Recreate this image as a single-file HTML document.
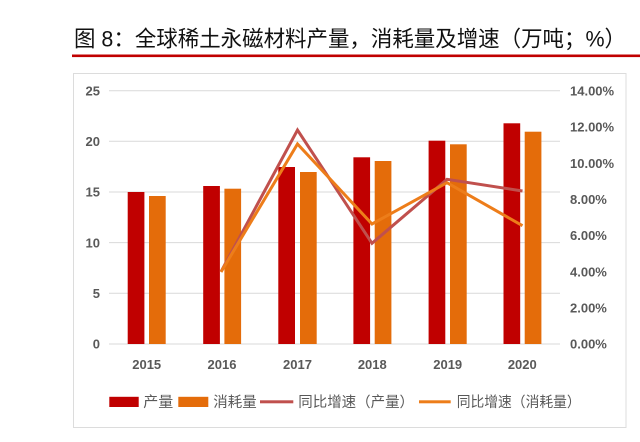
<!DOCTYPE html>
<html>
<head>
<meta charset="utf-8">
<style>
  html,body{margin:0;padding:0;background:#fff;}
  svg{display:block;}
  .ax{font-family:"Liberation Sans","Noto Sans CJK SC",sans-serif;font-weight:bold;font-size:13px;fill:#595959;}
  .lg{font-family:"Liberation Sans","Noto Sans CJK SC",sans-serif;font-size:14.5px;fill:#595959;}
  .tt{font-family:"Liberation Sans","Noto Sans CJK SC",sans-serif;font-size:22px;fill:#111;}
</style>
</head>
<body>
<svg width="640" height="442" viewBox="0 0 640 442" xmlns="http://www.w3.org/2000/svg">
  <rect width="640" height="442" fill="#fff"/>
  <!-- Title -->
  <text class="tt" x="74" y="46.5" textLength="552" lengthAdjust="spacingAndGlyphs">图 8：全球稀土永磁材料产量，消耗量及增速（万吨；%）</text>
  <rect x="72" y="54.5" width="568" height="2.6" fill="#c00000"/>

  <!-- Chart box -->
  <rect x="73.5" y="73.5" width="552.5" height="354" fill="#fff" stroke="#dcdcdc" stroke-width="1"/>

  <!-- Gridlines -->
  <g stroke="#d9d9d9" stroke-width="1">
    <line x1="109" y1="90.7" x2="560" y2="90.7"/>
    <line x1="109" y1="141.3" x2="560" y2="141.3"/>
    <line x1="109" y1="192" x2="560" y2="192"/>
    <line x1="109" y1="242.6" x2="560" y2="242.6"/>
    <line x1="109" y1="293.3" x2="560" y2="293.3"/>
    <line x1="109" y1="344" x2="560" y2="344"/>
  </g>

  <!-- Left axis labels -->
  <g class="ax" text-anchor="end">
    <text x="100" y="95.4">25</text>
    <text x="100" y="146">20</text>
    <text x="100" y="196.7">15</text>
    <text x="100" y="247.3">10</text>
    <text x="100" y="298">5</text>
    <text x="100" y="348.7">0</text>
  </g>
  <!-- Right axis labels -->
  <g class="ax" text-anchor="start">
    <text x="570" y="95.4">14.00%</text>
    <text x="570" y="131.6">12.00%</text>
    <text x="570" y="167.8">10.00%</text>
    <text x="570" y="204">8.00%</text>
    <text x="570" y="240.2">6.00%</text>
    <text x="570" y="276.4">4.00%</text>
    <text x="570" y="312.6">2.00%</text>
    <text x="570" y="348.7">0.00%</text>
  </g>

  <!-- Bars: production (red) -->
  <g fill="#c00000">
    <rect x="127.7" y="192" width="16.7" height="152"/>
    <rect x="203.2" y="186" width="16.7" height="158"/>
    <rect x="278.3" y="167" width="16.7" height="177"/>
    <rect x="353.4" y="157.3" width="16.7" height="186.7"/>
    <rect x="428.6" y="140.7" width="16.7" height="203.3"/>
    <rect x="503.5" y="123.3" width="16.7" height="220.7"/>
  </g>
  <!-- Bars: consumption (orange) -->
  <g fill="#e46c0a">
    <rect x="149" y="196" width="16.7" height="148"/>
    <rect x="224.4" y="188.7" width="16.7" height="155.3"/>
    <rect x="300" y="172" width="16.7" height="172"/>
    <rect x="374.7" y="161" width="16.7" height="183"/>
    <rect x="450" y="144.3" width="16.7" height="199.7"/>
    <rect x="524.7" y="131.7" width="16.7" height="212.3"/>
  </g>

  <!-- Lines -->
  <polyline points="221,271.7 297.5,130 372,243.3 447,179.3 522.5,191" fill="none" stroke="#c0504d" stroke-width="3" stroke-linejoin="miter"/>
  <polyline points="221,272 297.5,144 372,224 447,182.7 522.5,225.7" fill="none" stroke="#ed7d1a" stroke-width="3" stroke-linejoin="miter"/>

  <!-- Year labels -->
  <g class="ax" text-anchor="middle">
    <text x="146.7" y="368.8">2015</text>
    <text x="222" y="368.8">2016</text>
    <text x="297.5" y="368.8">2017</text>
    <text x="372.3" y="368.8">2018</text>
    <text x="447.7" y="368.8">2019</text>
    <text x="522.3" y="368.8">2020</text>
  </g>

  <!-- Legend -->
  <rect x="109.3" y="396.8" width="29.4" height="10.2" fill="#c00000"/>
  <text class="lg" x="143.3" y="407.2" textLength="30" lengthAdjust="spacingAndGlyphs">产量</text>
  <rect x="178.3" y="396.8" width="30" height="10.2" fill="#e46c0a"/>
  <text class="lg" x="213.3" y="407.2" textLength="43.4" lengthAdjust="spacingAndGlyphs">消耗量</text>
  <rect x="260" y="400.3" width="33.3" height="3" fill="#c0504d"/>
  <text class="lg" x="298.3" y="407.2" textLength="115.7" lengthAdjust="spacingAndGlyphs">同比增速（产量）</text>
  <rect x="419" y="400.3" width="31.7" height="3" fill="#ed7d1a"/>
  <text class="lg" x="456.7" y="407.2" textLength="124" lengthAdjust="spacingAndGlyphs">同比增速（消耗量）</text>
</svg>
</body>
</html>
